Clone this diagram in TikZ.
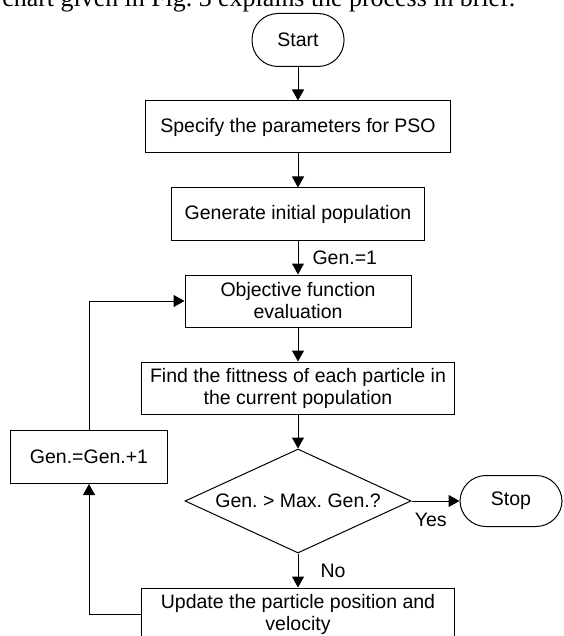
\documentclass[tikz,border=0pt]{standalone}
\usepackage{fontspec}
\setmainfont{Liberation Sans}
\newfontfamily\bodyserif{Liberation Serif}
\usetikzlibrary{shapes.geometric,arrows.meta,positioning}
\frenchspacing

\tikzset{
  block/.style={draw, line width=0.5pt, minimum height=26pt, inner sep=1pt, align=center,
    font=\fontsize{9.75}{11}\selectfont},
  term/.style={block, minimum height=26.5pt, rounded corners=13pt},
  decide/.style={draw, diamond, line width=0.5pt, aspect=2.17, inner sep=0pt,
    minimum width=113pt, minimum height=52pt, font=\fontsize{9.75}{11}\selectfont},
  arr/.style={-{Triangle[length=5.5pt,width=6pt]}, line width=0.5pt},
  lbl/.style={inner sep=1pt, font=\fontsize{9.75}{11}\selectfont}
}

\begin{document}
\begin{tikzpicture}[x=0.5pt, y=-0.5pt]
\clip (0,0) rectangle (563,636);
\node[anchor=base west, inner sep=0pt, font=\bodyserif\fontsize{12.95}{15}\selectfont] (intro) at (2,7)
  {chart given in Fig. 3 explains the process in brief.};

\node[term, minimum width=46pt] (start) at (298,40) {Start};
\node[block, minimum width=152.5pt] (spec) at (298,127) {Specify the parameters for PSO};
\node[block, minimum width=126.5pt] (init) at (298,214) {Generate initial population};
\node[block, minimum width=113pt] (objfun) at (298,301) {Objective function\\evaluation};
\node[block, minimum width=156.5pt] (fitness) at (298,388) {Find the fittness of each particle in\\the current population};
\node[decide] (maxgen) at (298,501) {Gen. > Max. Gen.?};
\node[term, minimum width=51pt, minimum height=25.5pt] (stop) at (511,501) {Stop};
\node[block, minimum width=156.5pt] (update) at (298,614) {Update the particle position and\\velocity};
\node[block, minimum width=78.5pt, minimum height=26.5pt] (incgen) at (89,457) {Gen.=Gen.+1};

\draw[arr] (start) -- (spec);
\draw[arr] (spec) -- (init);
\draw[arr] (init) -- node[lbl, right=6pt] {Gen.=1} (objfun);
\draw[arr] (objfun) -- (fitness);
\draw[arr] (fitness) -- (maxgen);
\draw[arr] (maxgen.east) -- node[lbl, below=5pt, pos=0.4] {Yes} (stop.west);
\draw[arr] (maxgen.south) -- node[lbl, right=10pt] {No} (update);
\draw[arr] (update.west) -| (incgen.south);
\draw[arr] (incgen.north) |- (objfun.west);
\end{tikzpicture}
\end{document}
